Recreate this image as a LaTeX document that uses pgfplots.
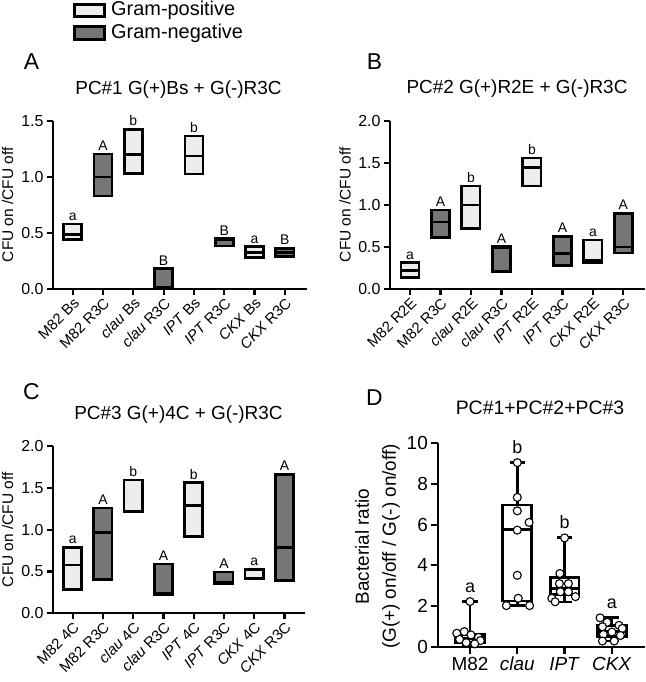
\documentclass[border=0pt]{standalone}
\usepackage{fontspec}
\setmainfont{Liberation Sans}
\usepackage{pgfplots}
\pgfplotsset{compat=1.18}
\usepgfplotslibrary{statistics}
\definecolor{lightfill}{RGB}{236,236,236}
\definecolor{darkfill}{RGB}{118,118,118}
\pgfplotsset{
  common/.style={scale only axis, anchor=south west, clip=false,
    axis x line*=bottom, axis y line*=left,
    axis line style={line width=2.2bp, black},
    tick align=outside, major tick length=6bp,
    tick style={line width=2.2bp, black},
    boxplot/draw direction=y,
    /pgf/number format/assume math mode=true},
  panelABC/.style={common, xtick={0,...,7},
    yticklabel style={/pgf/number format/.cd, fixed, fixed zerofill, precision=1},
    tick label style={font=\fontsize{16}{18}\selectfont},
    xticklabel style={rotate=45, anchor=north east, font=\fontsize{15}{17}\selectfont, inner sep=1bp},
    boxplot/box extend=0.6, boxplot/whisker extend=0.6},
  pos/.style={draw=black, fill=lightfill, line width=2.7bp, solid},
  neg/.style={draw=black, fill=darkfill, line width=2.7bp, solid},
  pt/.style={only marks, mark=*, mark size=4bp, mark options={fill=white, draw=black, line width=1.1bp}},
}
\tikzset{
  lettr/.style={anchor=base, yshift=3.5bp, font=\fontsize{14}{16}\selectfont},
  lettrD/.style={anchor=base, yshift=9.5bp, font=\fontsize{18}{20}\selectfont},
}
\begin{document}
\begin{tikzpicture}
\useasboundingbox (0,0) rectangle (646bp,682bp);
% legend
\draw[line width=3bp, fill=lightfill] (74.5bp,665.5bp) rectangle (104.5bp,677.5bp);
\draw[line width=3bp, fill=darkfill] (74.5bp,642.5bp) rectangle (104.5bp,655.5bp);
\node[anchor=west, font=\fontsize{20}{22}\selectfont, inner sep=0pt] at (111bp,671.5bp) {Gram-positive};
\node[anchor=west, font=\fontsize{20}{22}\selectfont, inner sep=0pt] at (111bp,648.8bp) {Gram-negative};
% panel letters
\node[font=\fontsize{23}{25}\selectfont] at (31.5bp,620.5bp) {A};
\node[font=\fontsize{23}{25}\selectfont] at (374.5bp,620.5bp) {B};
\node[font=\fontsize{23}{25}\selectfont] at (31.5bp,290.5bp) {C};
\node[font=\fontsize{23}{25}\selectfont] at (374.5bp,284.5bp) {D};
% titles
\node[font=\fontsize{19}{21}\selectfont] at (178.5bp,592bp) {PC\#1 G(+)Bs + G(-)R3C};
\node[font=\fontsize{19}{21}\selectfont] at (517bp,593.5bp) {PC\#2 G(+)R2E + G(-)R3C};
\node[font=\fontsize{19}{21}\selectfont] at (178.5bp,267bp) {PC\#3 G(+)4C + G(-)R3C};
\node[font=\fontsize{19.5}{21}\selectfont] at (540bp,274.5bp) {PC\#1+PC\#2+PC\#3};
% y labels
\node[rotate=90, font=\fontsize{15.5}{17}\selectfont] at (7.5bp,477.3bp) {CFU on /CFU off};
\node[rotate=90, font=\fontsize{15.5}{17}\selectfont] at (345bp,477.3bp) {CFU on /CFU off};
\node[rotate=90, font=\fontsize{15.5}{17}\selectfont] at (7.5bp,152.3bp) {CFU on /CFU off};
\node[rotate=90, font=\fontsize{19}{27}\selectfont, align=center] at (377.5bp,135.5bp) {Bacterial ratio\\(G(+) on/off / G(-) on/off)};

% ---------------- Panel A
\begin{axis}[panelABC, at={(53bp,392.7bp)}, width=254bp, height=168.6bp,
  xmin=-0.65, xmax=7.73, ymin=0, ymax=1.5, ytick={0,0.5,1,1.5},
  xticklabels={M82 Bs, M82 R3C, \textit{clau} Bs, \textit{clau} R3C, \textit{IPT} Bs, \textit{IPT} R3C, \textit{CKX} Bs, \textit{CKX} R3C}]
\addplot[pos, boxplot prepared={draw position=0, lower whisker=0.445, lower quartile=0.445, median=0.49, upper quartile=0.58, upper whisker=0.58}] coordinates {};
\addplot[neg, boxplot prepared={draw position=1, lower whisker=0.83, lower quartile=0.83, median=1.0, upper quartile=1.204, upper whisker=1.204}] coordinates {};
\addplot[pos, boxplot prepared={draw position=2, lower whisker=1.03, lower quartile=1.03, median=1.20, upper quartile=1.423, upper whisker=1.423}] coordinates {};
\addplot[neg, boxplot prepared={draw position=3, lower whisker=0.02, lower quartile=0.02, median=0.02, upper quartile=0.185, upper whisker=0.185}] coordinates {};
\addplot[pos, boxplot prepared={draw position=4, lower whisker=1.026, lower quartile=1.026, median=1.186, upper quartile=1.364, upper whisker=1.364}] coordinates {};
\addplot[neg, boxplot prepared={draw position=5, lower whisker=0.385, lower quartile=0.385, median=0.44, upper quartile=0.45, upper whisker=0.45}] coordinates {};
\addplot[pos, boxplot prepared={draw position=6, lower whisker=0.285, lower quartile=0.285, median=0.326, upper quartile=0.38, upper whisker=0.38}] coordinates {};
\addplot[neg, boxplot prepared={draw position=7, lower whisker=0.29, lower quartile=0.29, median=0.33, upper quartile=0.365, upper whisker=0.365}] coordinates {};
\node[lettr] at (axis cs:0,0.58) {a};
\node[lettr] at (axis cs:1,1.204) {A};
\node[lettr] at (axis cs:2,1.423) {b};
\node[lettr] at (axis cs:3,0.185) {B};
\node[lettr] at (axis cs:4,1.364) {b};
\node[lettr] at (axis cs:5,0.45) {B};
\node[lettr] at (axis cs:6,0.38) {a};
\node[lettr] at (axis cs:7,0.365) {B};
\end{axis}

% ---------------- Panel B
\begin{axis}[panelABC, at={(390bp,392.7bp)}, width=255bp, height=168.6bp,
  xmin=-0.656, xmax=7.71, ymin=0, ymax=2, ytick={0,0.5,1,1.5,2},
  xticklabels={M82 R2E, M82 R3C, \textit{clau} R2E, \textit{clau} R3C, \textit{IPT} R2E, \textit{IPT} R3C, \textit{CKX} R2E, \textit{CKX} R3C}]
\addplot[pos, boxplot prepared={draw position=0, lower whisker=0.142, lower quartile=0.142, median=0.22, upper quartile=0.316, upper whisker=0.316}] coordinates {};
\addplot[neg, boxplot prepared={draw position=1, lower whisker=0.617, lower quartile=0.617, median=0.80, upper quartile=0.94, upper whisker=0.94}] coordinates {};
\addplot[pos, boxplot prepared={draw position=2, lower whisker=0.72, lower quartile=0.72, median=1.0, upper quartile=1.225, upper whisker=1.225}] coordinates {};
\addplot[neg, boxplot prepared={draw position=3, lower whisker=0.21, lower quartile=0.21, median=0.49, upper quartile=0.505, upper whisker=0.505}] coordinates {};
\addplot[pos, boxplot prepared={draw position=4, lower whisker=1.225, lower quartile=1.225, median=1.443, upper quartile=1.557, upper whisker=1.557}] coordinates {};
\addplot[neg, boxplot prepared={draw position=5, lower whisker=0.28, lower quartile=0.28, median=0.427, upper quartile=0.63, upper whisker=0.63}] coordinates {};
\addplot[pos, boxplot prepared={draw position=6, lower whisker=0.32, lower quartile=0.32, median=0.34, upper quartile=0.585, upper whisker=0.585}] coordinates {};
\addplot[neg, boxplot prepared={draw position=7, lower whisker=0.43, lower quartile=0.43, median=0.50, upper quartile=0.90, upper whisker=0.90}] coordinates {};
\node[lettr] at (axis cs:0,0.316) {a};
\node[lettr] at (axis cs:1,0.94) {A};
\node[lettr] at (axis cs:2,1.225) {b};
\node[lettr] at (axis cs:3,0.505) {A};
\node[lettr] at (axis cs:4,1.557) {b};
\node[lettr] at (axis cs:5,0.63) {A};
\node[lettr] at (axis cs:6,0.585) {a};
\node[lettr] at (axis cs:7,0.90) {A};
\end{axis}

% ---------------- Panel C
\begin{axis}[panelABC, at={(53bp,68.7bp)}, width=252bp, height=167.3bp,
  xmin=-0.65, xmax=7.68, ymin=0, ymax=2, ytick={0,0.5,1,1.5,2},
  xticklabels={M82 4C, M82 R3C, \textit{clau} 4C, \textit{clau} R3C, \textit{IPT} 4C, \textit{IPT} R3C, \textit{CKX} 4C, \textit{CKX} R3C}]
\addplot[pos, boxplot prepared={draw position=0, lower whisker=0.287, lower quartile=0.287, median=0.577, upper quartile=0.79, upper whisker=0.79}] coordinates {};
\addplot[neg, boxplot prepared={draw position=1, lower whisker=0.40, lower quartile=0.40, median=0.968, upper quartile=1.26, upper whisker=1.26}] coordinates {};
\addplot[pos, boxplot prepared={draw position=2, lower whisker=1.215, lower quartile=1.215, median=1.22, upper quartile=1.594, upper whisker=1.594}] coordinates {};
\addplot[neg, boxplot prepared={draw position=3, lower whisker=0.227, lower quartile=0.227, median=0.235, upper quartile=0.59, upper whisker=0.59}] coordinates {};
\addplot[pos, boxplot prepared={draw position=4, lower whisker=0.917, lower quartile=0.917, median=1.287, upper quartile=1.56, upper whisker=1.56}] coordinates {};
\addplot[neg, boxplot prepared={draw position=5, lower whisker=0.358, lower quartile=0.358, median=0.37, upper quartile=0.494, upper whisker=0.494}] coordinates {};
\addplot[pos, boxplot prepared={draw position=6, lower whisker=0.414, lower quartile=0.414, median=0.42, upper quartile=0.526, upper whisker=0.526}] coordinates {};
\addplot[neg, boxplot prepared={draw position=7, lower whisker=0.39, lower quartile=0.39, median=0.785, upper quartile=1.66, upper whisker=1.66}] coordinates {};
\node[lettr] at (axis cs:0,0.79) {a};
\node[lettr] at (axis cs:1,1.26) {A};
\node[lettr] at (axis cs:2,1.594) {b};
\node[lettr] at (axis cs:3,0.59) {A};
\node[lettr] at (axis cs:4,1.56) {b};
\node[lettr] at (axis cs:5,0.494) {A};
\node[lettr] at (axis cs:6,0.526) {a};
\node[lettr] at (axis cs:7,1.66) {A};
\end{axis}

% ---------------- Panel D
\begin{axis}[common, at={(438.3bp,35.3bp)}, width=206.7bp, height=203.4bp,
  xmin=-0.67, xmax=3.7, ymin=0, ymax=10, ytick={0,2,4,6,8,10},
  xtick={0,1,2,3}, xticklabels={M82,\textit{clau},\textit{IPT},\textit{CKX}},
  major tick length=7bp,
  tick label style={font=\fontsize{19}{21}\selectfont},
  boxplot/box extend=0.61, boxplot/whisker extend=0.32]
\addplot[draw=black, fill=white, line width=2.8bp, boxplot prepared={draw position=0, lower whisker=0.12, lower quartile=0.22, median=0.42, upper quartile=0.6, upper whisker=2.22}] coordinates {};
\addplot[draw=black, fill=white, line width=2.8bp, boxplot prepared={draw position=1, lower whisker=2.02, lower quartile=2.25, median=5.78, upper quartile=6.97, upper whisker=9.05}] coordinates {};
\addplot[draw=black, fill=white, line width=2.8bp, boxplot prepared={draw position=2, lower whisker=2.2, lower quartile=2.58, median=2.85, upper quartile=3.42, upper whisker=5.35}] coordinates {};
\addplot[draw=black, fill=white, line width=2.8bp, boxplot prepared={draw position=3, lower whisker=0.28, lower quartile=0.52, median=0.75, upper quartile=1.05, upper whisker=1.42}] coordinates {};
\addplot[pt] coordinates {(0,2.22) (-0.28,0.66) (-0.12,0.74) (0.02,0.58) (0.18,0.46) (-0.22,0.36) (0.22,0.3) (-0.08,0.2) (0.1,0.14)};
\addplot[pt] coordinates {(1,9.05) (1,7.34) (1,6.68) (1.25,6.11) (1,5.73) (1,3.51) (1.02,2.38) (0.77,2.02) (1.26,2.02)};
\addplot[pt] coordinates {(2,5.35) (1.9,3.6) (1.89,3.1) (2.08,3.1) (1.91,2.7) (2.08,2.7) (2.23,2.46) (1.73,2.38) (1.8,2.21)};
\addplot[pt] coordinates {(2.75,1.42) (2.9,1.2) (3.15,1.05) (2.8,0.98) (3.22,0.9) (3.0,0.72) (2.82,0.6) (3.18,0.55) (2.8,0.28) (3.05,0.28)};
\node[lettrD] at (axis cs:0,2.22) {a};
\node[lettrD] at (axis cs:1,9.05) {b};
\node[lettrD] at (axis cs:2,5.35) {b};
\node[lettrD] at (axis cs:3,1.42) {a};
\end{axis}
\end{tikzpicture}
\end{document}
